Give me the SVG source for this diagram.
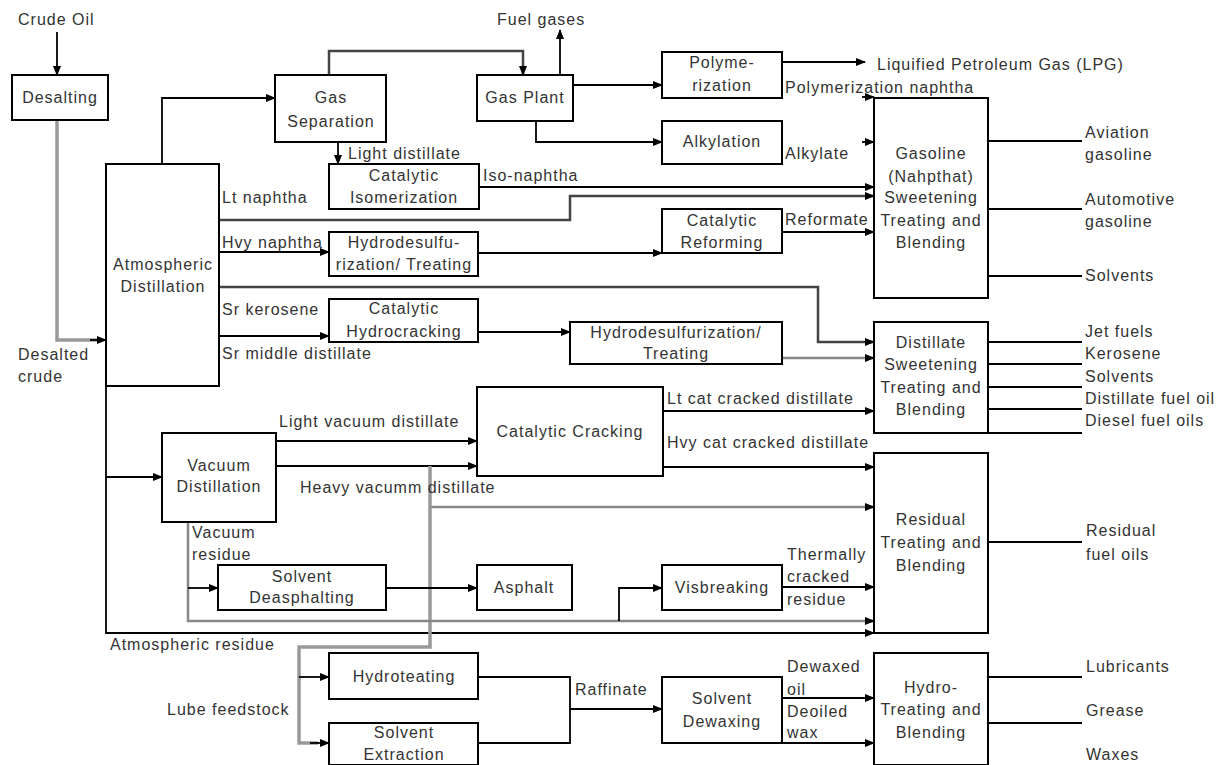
<svg xmlns="http://www.w3.org/2000/svg" width="1220" height="765" viewBox="0 0 1220 765">
<style>
text{font-family:"Liberation Sans",Arial,Helvetica,sans-serif;font-size:16px;letter-spacing:1px;fill:#333}
.c{text-anchor:middle}
.box{fill:#fff;stroke:#000;stroke-width:2}
.ln{fill:none;stroke:#000;stroke-width:1.8}
.g{fill:none;stroke:#999;stroke-width:3.5}
.g2{fill:none;stroke:#888;stroke-width:2.5}
.dg{fill:none;stroke:#444;stroke-width:2.5}
.a{marker-end:url(#ah)}
</style>
<defs>
<marker id="ah" markerWidth="10" markerHeight="8" refX="9" refY="4" orient="auto" markerUnits="userSpaceOnUse"><path d="M0,0 L10,4 L0,8 z" fill="#000"/></marker>
</defs>
<rect width="1220" height="765" fill="#fff"/>

<g id="connectors">
<path class="ln a" d="M57,32 V75"/>
<path class="g" d="M57,120 V340 H98"/>
<path class="ln a" d="M90,340 H106"/>
<path class="ln a" d="M162,164 V98 H275"/>
<path class="dg a" d="M329,75 V51 H523 V75"/>
<path class="ln a" d="M338,142 V164"/>
<path class="ln a" d="M560,75 V30"/>
<path class="ln a" d="M573,85 H662"/>
<path class="ln a" d="M536,121 V142 H662"/>
<path class="ln a" d="M782,62 H865"/>
<path class="ln a" d="M862,97 H874"/>
<path class="ln a" d="M862,142 H874"/>
<path class="ln a" d="M479,187 H874"/>
<path class="dg a" d="M219,220 H570 V196 H874"/>
<path class="ln a" d="M219,252 H329"/>
<path class="ln a" d="M478,253 H662"/>
<path class="ln a" d="M782,232 H874"/>
<path class="dg a" d="M219,287 H818 V342 H874"/>
<path class="ln a" d="M219,336 H329"/>
<path class="ln a" d="M478,332 H570"/>
<path class="g2 a" d="M782,358 H874"/>
<path class="ln" d="M988,141 H1082 M988,209 H1082 M988,276 H1082"/>
<path class="ln" d="M988,342 H1082 M988,364 H1082 M988,387 H1082 M988,409 H1082 M988,433 H1082"/>
<path class="ln a" d="M106,386 V633 H874"/>
<path class="ln a" d="M106,477 H162"/>
<path class="ln a" d="M276,441 H477"/>
<path class="ln a" d="M276,466 H477"/>
<path class="ln a" d="M663,411 H874"/>
<path class="ln a" d="M663,467 H874"/>
<path class="g2 a" d="M430,507 H874"/>
<path class="g" d="M430,466 V647 H299 V743 H318"/>
<path class="ln a" d="M310,743 H329"/>
<path class="ln a" d="M299,677 H329"/>
<path class="g2 a" d="M188,522 V621 H874"/>
<path class="ln a" d="M188,588 H218"/>
<path class="ln a" d="M619,621 V588 H662"/>
<path class="ln a" d="M386,588 H477"/>
<path class="ln a" d="M782,587 H874"/>
<path class="ln" d="M988,542 H1082"/>
<path class="ln" d="M478,677 H570 V743 H478"/>
<path class="ln a" d="M570,709 H662"/>
<path class="ln a" d="M782,698 H874"/>
<path class="ln a" d="M782,743 H874"/>
<path class="ln" d="M988,677 H1082 M988,723 H1082"/>
</g>

<g id="labels">
<text x="18" y="25">Crude Oil</text>
<text x="497" y="25">Fuel gases</text>
<text x="877" y="70">Liquified Petroleum Gas (LPG)</text>
<text x="785" y="93">Polymerization naphtha</text>
<text x="785" y="159">Alkylate</text>
<text x="348" y="159">Light distillate</text>
<text x="483" y="181">Iso-naphtha</text>
<text x="222" y="203">Lt naphtha</text>
<text x="222" y="248">Hvy naphtha</text>
<text x="785" y="225">Reformate</text>
<text x="222" y="315">Sr kerosene</text>
<text x="222" y="359">Sr middle distillate</text>
<text x="18" y="360">Desalted</text>
<text x="18" y="382">crude</text>
<text x="667" y="404">Lt cat cracked distillate</text>
<text x="667" y="448">Hvy cat cracked distillate</text>
<text x="279" y="427">Light vacuum distillate</text>
<text x="300" y="493">Heavy vacumm distillate</text>
<text x="192" y="538">Vacuum</text>
<text x="192" y="560">residue</text>
<text x="787" y="560">Thermally</text>
<text x="787" y="582">cracked</text>
<text x="787" y="605">residue</text>
<text x="110" y="650">Atmospheric residue</text>
<text x="167" y="715">Lube feedstock</text>
<text x="575" y="695">Raffinate</text>
<text x="787" y="672">Dewaxed</text>
<text x="787" y="695">oil</text>
<text x="787" y="717">Deoiled</text>
<text x="787" y="738">wax</text>
<text x="1085" y="138">Aviation</text>
<text x="1085" y="160">gasoline</text>
<text x="1085" y="205">Automotive</text>
<text x="1085" y="227">gasoline</text>
<text x="1085" y="281">Solvents</text>
<text x="1085" y="337">Jet fuels</text>
<text x="1085" y="359">Kerosene</text>
<text x="1085" y="382">Solvents</text>
<text x="1085" y="404">Distillate fuel oil</text>
<text x="1085" y="426">Diesel fuel oils</text>
<text x="1086" y="536">Residual</text>
<text x="1086" y="560">fuel oils</text>
<text x="1086" y="672">Lubricants</text>
<text x="1086" y="716">Grease</text>
<text x="1086" y="760">Waxes</text>
</g>

<g id="desalting"><rect class="box" x="12" y="75" width="96" height="45"/><text class="c" x="60" y="103">Desalting</text></g>
<g id="gas-separation"><rect class="box" x="275" y="75" width="111" height="67"/><text class="c" x="331" y="103">Gas</text><text class="c" x="331" y="127">Separation</text></g>
<g id="atmospheric-distillation"><rect class="box" x="106" y="164" width="113" height="222"/><text class="c" x="163" y="270">Atmospheric</text><text class="c" x="163" y="292">Distillation</text></g>
<g id="catalytic-isomerization"><rect class="box" x="329" y="164" width="150" height="45"/><text class="c" x="404" y="181">Catalytic</text><text class="c" x="404" y="203">Isomerization</text></g>
<g id="hds-top"><rect class="box" x="329" y="232" width="149" height="44"/><text class="c" x="404" y="248">Hydrodesulfu-</text><text class="c" x="404" y="270">rization/ Treating</text></g>
<g id="catalytic-hydrocracking"><rect class="box" x="329" y="299" width="149" height="43"/><text class="c" x="404" y="314">Catalytic</text><text class="c" x="404" y="337">Hydrocracking</text></g>
<g id="gas-plant"><rect class="box" x="477" y="75" width="96" height="46"/><text class="c" x="525" y="103">Gas Plant</text></g>
<g id="polymerization"><rect class="box" x="662" y="52" width="120" height="46"/><text class="c" x="722" y="68">Polyme-</text><text class="c" x="722" y="91">rization</text></g>
<g id="alkylation"><rect class="box" x="662" y="121" width="120" height="43"/><text class="c" x="722" y="147">Alkylation</text></g>
<g id="catalytic-reforming"><rect class="box" x="662" y="209" width="120" height="44"/><text class="c" x="722" y="226">Catalytic</text><text class="c" x="722" y="248">Reforming</text></g>
<g id="hds-middle"><rect class="box" x="570" y="322" width="212" height="42"/><text class="c" x="676" y="338">Hydrodesulfurization/</text><text class="c" x="676" y="359">Treating</text></g>
<g id="gasoline-blending"><rect class="box" x="874" y="98" width="114" height="200"/><text class="c" x="931" y="159">Gasoline</text><text class="c" x="931" y="182">(Nahpthat)</text><text class="c" x="931" y="203">Sweetening</text><text class="c" x="931" y="226">Treating and</text><text class="c" x="931" y="248">Blending</text></g>
<g id="distillate-blending"><rect class="box" x="874" y="322" width="114" height="111"/><text class="c" x="931" y="348">Distillate</text><text class="c" x="931" y="370">Sweetening</text><text class="c" x="931" y="393">Treating and</text><text class="c" x="931" y="415">Blending</text></g>
<g id="catalytic-cracking"><rect class="box" x="477" y="387" width="186" height="89"/><text class="c" x="570" y="437">Catalytic Cracking</text></g>
<g id="vacuum-distillation"><rect class="box" x="162" y="433" width="114" height="89"/><text class="c" x="219" y="471">Vacuum</text><text class="c" x="219" y="492">Distillation</text></g>
<g id="residual-blending"><rect class="box" x="874" y="453" width="114" height="180"/><text class="c" x="931" y="525">Residual</text><text class="c" x="931" y="548">Treating and</text><text class="c" x="931" y="571">Blending</text></g>
<g id="solvent-deasphalting"><rect class="box" x="218" y="565" width="168" height="45"/><text class="c" x="302" y="582">Solvent</text><text class="c" x="302" y="603">Deasphalting</text></g>
<g id="asphalt"><rect class="box" x="477" y="565" width="95" height="45"/><text class="c" x="524" y="593">Asphalt</text></g>
<g id="visbreaking"><rect class="box" x="662" y="565" width="120" height="45"/><text class="c" x="722" y="593">Visbreaking</text></g>
<g id="hydroteating"><rect class="box" x="329" y="653" width="149" height="46"/><text class="c" x="404" y="682">Hydroteating</text></g>
<g id="solvent-extraction"><rect class="box" x="329" y="723" width="149" height="42"/><text class="c" x="404" y="738">Solvent</text><text class="c" x="404" y="760">Extraction</text></g>
<g id="solvent-dewaxing"><rect class="box" x="662" y="677" width="120" height="66"/><text class="c" x="722" y="704">Solvent</text><text class="c" x="722" y="727">Dewaxing</text></g>
<g id="hydro-treating-blending"><rect class="box" x="874" y="653" width="114" height="112"/><text class="c" x="931" y="693">Hydro-</text><text class="c" x="931" y="715">Treating and</text><text class="c" x="931" y="738">Blending</text></g>
</svg>
